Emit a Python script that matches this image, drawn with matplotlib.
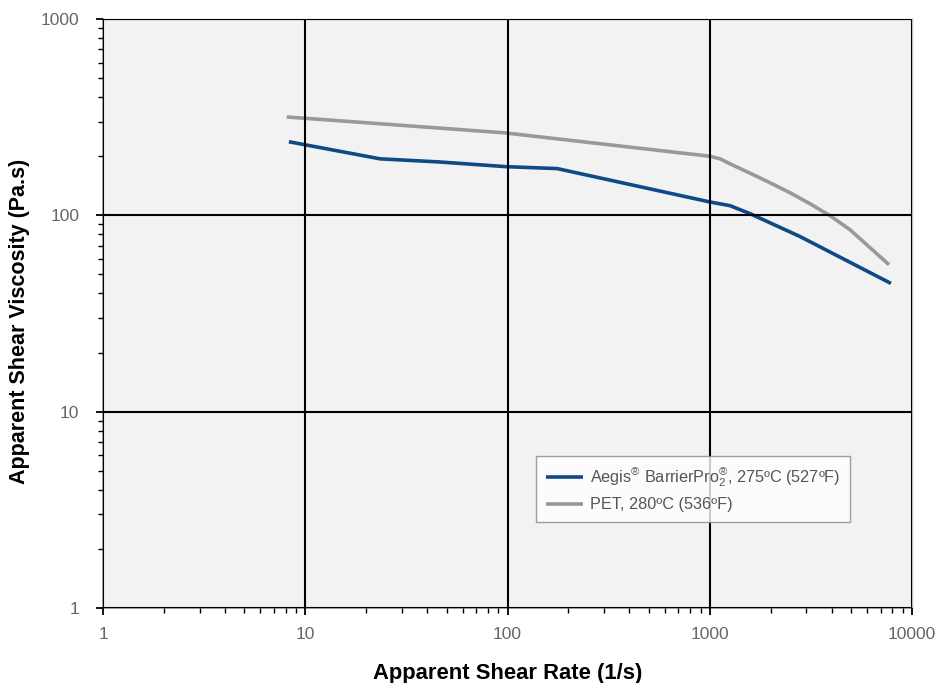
"""Apparent shear viscosity vs shear rate, log-log."""
import matplotlib

matplotlib.use("Agg")
import matplotlib.pyplot as plt  # noqa: E402
from matplotlib.ticker import LogLocator, NullFormatter, FixedLocator  # noqa: E402

plt.rcParams["font.family"] = ["Liberation Sans", "DejaVu Sans"]
plt.rcParams["mathtext.fontset"] = "custom"
plt.rcParams["mathtext.rm"] = "Liberation Sans"

# shear rate (1/s) and viscosity (Pa.s)
aegis_rate = [8.3, 23.4, 46, 98, 176, 1000, 1259, 1581, 2793, 7870]
aegis_visc = [237, 194, 187, 177, 173, 117, 112, 102, 78, 45]
pet_rate = [8.1, 97, 1000, 1124, 1259, 1581, 1986, 2494, 3133, 3936, 4937, 7700]
pet_visc = [317, 263, 200, 194, 183, 164, 146.5, 130.3, 114.5, 99.5, 84.5, 56]

x_ticks = [1, 10, 100, 1000, 10000]
y_ticks = [1, 10, 100, 1000]
aegis_label = (r"Aegis$^{\mathregular{®}}$ BarrierPro$_{\mathregular{2}}^{\mathregular{®}}$,"
               " 275ºC (527ºF)")
pet_label = "PET, 280ºC (536ºF)"

fig = plt.figure(figsize=(9.35, 6.83), dpi=100)
ax = fig.add_axes([0.1102, 0.1098, 0.8652, 0.8624])
ax.set_facecolor("#f2f2f2")

ax.plot(aegis_rate, aegis_visc, color="#0f4a87", lw=2.6, label=aegis_label,
        solid_capstyle="butt")
ax.plot(pet_rate, pet_visc, color="#999999", lw=2.6, label=pet_label,
        solid_capstyle="butt")

ax.set_xscale("log")
ax.set_yscale("log")
ax.set_xlim(1, 10000)
ax.set_ylim(1, 1000)
ax.xaxis.set_major_locator(FixedLocator(x_ticks))
ax.yaxis.set_major_locator(FixedLocator(y_ticks))
ax.set_xticklabels([str(t) for t in x_ticks])
ax.set_yticklabels([str(t) for t in y_ticks])
ax.xaxis.set_minor_locator(LogLocator(base=10, subs=range(2, 10)))
ax.yaxis.set_minor_locator(LogLocator(base=10, subs=range(2, 10)))
ax.xaxis.set_minor_formatter(NullFormatter())
ax.yaxis.set_minor_formatter(NullFormatter())

ax.grid(True, which="major", color="black", lw=1.5)
ax.set_axisbelow(False)
for ln in ax.get_xgridlines() + ax.get_ygridlines():
    ln.set_zorder(1.5)

ax.tick_params(which="major", direction="out", length=5, width=1.3, color="black",
               labelsize=12.5, labelcolor="#666666")
ax.tick_params(axis="x", which="major", pad=9)
ax.tick_params(axis="y", which="major", pad=12)
ax.tick_params(which="minor", direction="out", length=3.5, width=1, color="black")
ax.tick_params(top=False, right=False, which="both")

for side in ["left", "bottom"]:
    ax.spines[side].set_color("#888888")
    ax.spines[side].set_linewidth(1.2)
for side in ["top", "right"]:
    ax.spines[side].set_color("#bbbbbb")
    ax.spines[side].set_linewidth(1.0)

ax.set_xlabel("Apparent Shear Rate (1/s)", fontsize=15.8, fontweight="bold",
              labelpad=15)
ax.set_ylabel("Apparent Shear Viscosity (Pa.s)", fontsize=15.5, fontweight="bold")
ax.yaxis.set_label_coords(-0.0905, 0.486)

leg = ax.legend(loc="upper right", bbox_to_anchor=(0.9234, 0.258),
                borderaxespad=0, fontsize=11.7,
                frameon=True, fancybox=False, handlelength=2.3, borderpad=0.6,
                labelspacing=0.5, handletextpad=0.4)
leg.get_frame().set_edgecolor("#888888")
leg.get_frame().set_linewidth(1.0)
for t in leg.get_texts():
    t.set_color("#555555")

fig.savefig("out.png", dpi=100)
